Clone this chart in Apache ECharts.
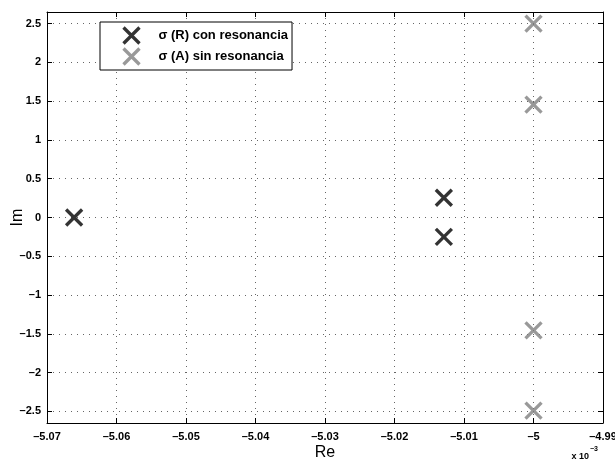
<!DOCTYPE html>
<html><head><meta charset="utf-8">
<script src="https://cdn.jsdelivr.net/npm/echarts@6/dist/echarts.min.js"></script>
<style>html,body{margin:0;padding:0;background:#fff}#c{width:615px;height:463px}</style>
</head><body><div id="c"></div>
<script>
const reR = [-5.0661, -5.0129, -5.0129];
const imR = [0, 0.255, -0.25];
const reA = [-5.0, -5.0, -5.0, -5.0];
const imA = [2.5, 1.455, -1.455, -2.49];
const xTicks = [-5.07, -5.06, -5.05, -5.04, -5.03, -5.02, -5.01, -5.0, -4.99];
const yTicks = [-2.5, -2, -1.5, -1, -0.5, 0, 0.5, 1, 1.5, 2, 2.5];
const xLabels = ['–5.07','–5.06','–5.05','–5.04','–5.03','–5.02','–5.01','–5','–4.99'];
const yLabels = ['–2.5','–2','–1.5','–1','–0.5','0','0.5','1','1.5','2','2.5'];
const nameR = 'σ (R) con resonancia';
const nameA = 'σ (A) sin resonancia';

const FF = '"Liberation Sans", Arial, Helvetica, sans-serif';
const xSym = 'path://M0,0L10,10M10,0L0,10';
function lbl(ticks, labels) {
  return v => { for (let i = 0; i < ticks.length; i++) if (Math.abs(ticks[i] - v) < 1e-6) return labels[i]; return ''; };
}
const grid = {left: 47, right: 12, top: 12, bottom: 40, outerBoundsMode: 'none', containLabel: false};
const tickStyle = {show: true, inside: true, length: 5, lineStyle: {color: '#000', width: 1}};
const splitStyle = {show: true, lineStyle: {color: '#666', width: 1, type: [1, 5]}};
function xAx(pos, main) {
  return {
    type: 'value', position: pos, min: -5.07, max: -4.99,
    axisLine: {show: true, onZero: false, lineStyle: {color: '#000', width: 1}},
    axisTick: Object.assign({customValues: xTicks}, tickStyle),
    axisLabel: {show: main, customValues: xTicks, formatter: lbl(xTicks, xLabels), color: '#000',
      fontFamily: FF, fontWeight: 'bold', fontSize: 11, margin: 8, hideOverlap: false},
    splitLine: main ? splitStyle : {show: false},
    name: main ? 'Re' : '', nameLocation: 'middle', nameGap: 22, nameMoveOverlap: false,
    nameTextStyle: {fontFamily: FF, fontSize: 16, color: '#000'}
  };
}
function yAx(pos, main) {
  return {
    type: 'value', position: pos, min: -2.65, max: 2.65,
    axisLine: {show: true, onZero: false, lineStyle: {color: '#000', width: 1}},
    axisTick: Object.assign({customValues: yTicks}, tickStyle),
    axisLabel: {show: main, customValues: yTicks, formatter: lbl(yTicks, yLabels), color: '#000',
      fontFamily: FF, fontWeight: 'bold', fontSize: 11, margin: 6},
    splitLine: main ? splitStyle : {show: false},
    name: main ? 'Im' : '', nameLocation: 'middle', nameGap: 21, nameRotate: 90, nameMoveOverlap: false,
    nameTextStyle: {fontFamily: FF, fontSize: 16, color: '#000'}
  };
}
const chart = echarts.init(document.getElementById('c'), null, {renderer: 'canvas'});
chart.setOption({
  animation: false,
  backgroundColor: '#fff',
  grid: grid,
  xAxis: [xAx('bottom', true), xAx('top', false)],
  yAxis: [yAx('left', true), yAx('right', false)],
  legend: {
    left: 100, top: 22, orient: 'vertical',
    borderColor: '#000', borderWidth: 1, backgroundColor: '#fff',
    padding: [3, 4, 3, 21], itemGap: 0, itemWidth: 16, itemHeight: 16,
    itemStyle: {borderWidth: 3.3},
    textStyle: {fontFamily: FF, fontWeight: 'bold', fontSize: 13, color: '#000', padding: [0, 0, 0, 14]},
    data: [nameR, nameA]
  },
  graphic: [{
    type: 'text', right: 17, bottom: 2,
    style: {
      text: '{a|x 10}{b|−3}', fill: '#000',
      rich: {
        a: {fontFamily: FF, fontWeight: 'bold', fontSize: 9, verticalAlign: 'bottom', color: '#000'},
        b: {fontFamily: FF, fontSize: 7, fontWeight: 'bold', verticalAlign: 'top', padding: [0, 0, 8, 1], color: '#000'}
      }
    }
  }],
  series: [
    {name: nameR, type: 'scatter', xAxisIndex: 0, yAxisIndex: 0, symbol: xSym, symbolSize: 16,
     itemStyle: {color: 'none', borderColor: '#000', borderWidth: 3.3},
     data: reR.map((x, i) => [x, imR[i]]), z: 5},
    {name: nameA, type: 'scatter', xAxisIndex: 0, yAxisIndex: 0, symbol: xSym, symbolSize: 16,
     itemStyle: {color: 'none', borderColor: '#808080', borderWidth: 3.3},
     data: reA.map((x, i) => [x, imA[i]]), z: 5}
  ]
});
</script></body></html>
